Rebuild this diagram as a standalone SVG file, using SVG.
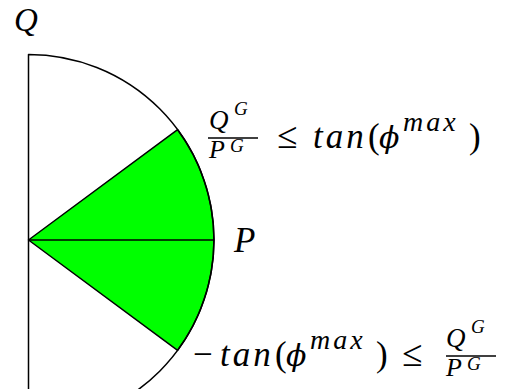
<svg xmlns="http://www.w3.org/2000/svg" width="511" height="389" viewBox="0 0 511 389">
<rect width="511" height="389" fill="#fff"/>
<g id="sector">
<path d="M28.5,240 L177.6,129.7 A185.5,185.5 0 0 1 177.6,350.3 Z" fill="#00ff00" stroke="#000" stroke-width="1.5" stroke-linejoin="round"/>
</g>
<g id="connectors" fill="none" stroke="#000" stroke-width="1.5" stroke-linejoin="round">
<path d="M28.5,400 L28.5,54.5 A185.5,185.5 0 0 1 28.5,425.5"/>
<path d="M28.5,240 L214,240"/>
</g>
<g id="label-Q">
<text x="14" y="31" font-size="33" font-family="Liberation Serif" font-style="italic">Q</text>
</g>
<g id="label-P">
<text x="234" y="252" font-size="35" font-family="Liberation Serif" font-style="italic">P</text>
</g>
<g id="label-upper">
<text x="209" y="129" font-size="27" font-family="Liberation Serif" font-style="italic">Q</text>
<text x="234" y="115" font-size="19" font-family="Liberation Serif" font-style="italic">G</text>
<line x1="208" y1="138" x2="258" y2="138" stroke="#000" stroke-width="1.4"/>
<text x="209" y="158" font-size="26" font-family="Liberation Serif" font-style="italic">P</text>
<text x="230" y="152" font-size="19" font-family="Liberation Serif" font-style="italic">G</text>
<text x="277" y="148" font-size="37" font-family="Liberation Serif">≤</text>
<text x="313" y="148" font-size="35" font-family="Liberation Serif" font-style="italic" letter-spacing="3">tan</text>
<text x="368" y="148" font-size="35" font-family="Liberation Serif">(</text>
<text x="379" y="148" font-size="30" font-family="DejaVu Serif" font-style="italic">ϕ</text>
<text x="403" y="131" font-size="28" font-family="Liberation Serif" font-style="italic" letter-spacing="3">max</text>
<text x="469" y="148" font-size="35" font-family="Liberation Serif">)</text>
</g>
<g id="label-lower">
<text x="193" y="366" font-size="35" font-family="Liberation Serif">−</text>
<text x="220" y="366" font-size="35" font-family="Liberation Serif" font-style="italic" letter-spacing="3">tan</text>
<text x="275" y="366" font-size="35" font-family="Liberation Serif">(</text>
<text x="286" y="366" font-size="30" font-family="DejaVu Serif" font-style="italic">ϕ</text>
<text x="310" y="349" font-size="28" font-family="Liberation Serif" font-style="italic" letter-spacing="3">max</text>
<text x="376" y="366" font-size="35" font-family="Liberation Serif">)</text>
<text x="402" y="366" font-size="37" font-family="Liberation Serif">≤</text>
<text x="446" y="347" font-size="27" font-family="Liberation Serif" font-style="italic">Q</text>
<text x="471" y="333" font-size="19" font-family="Liberation Serif" font-style="italic">G</text>
<line x1="446" y1="356" x2="496" y2="356" stroke="#000" stroke-width="1.4"/>
<text x="446" y="376" font-size="26" font-family="Liberation Serif" font-style="italic">P</text>
<text x="467" y="370" font-size="19" font-family="Liberation Serif" font-style="italic">G</text>
</g>
</svg>
